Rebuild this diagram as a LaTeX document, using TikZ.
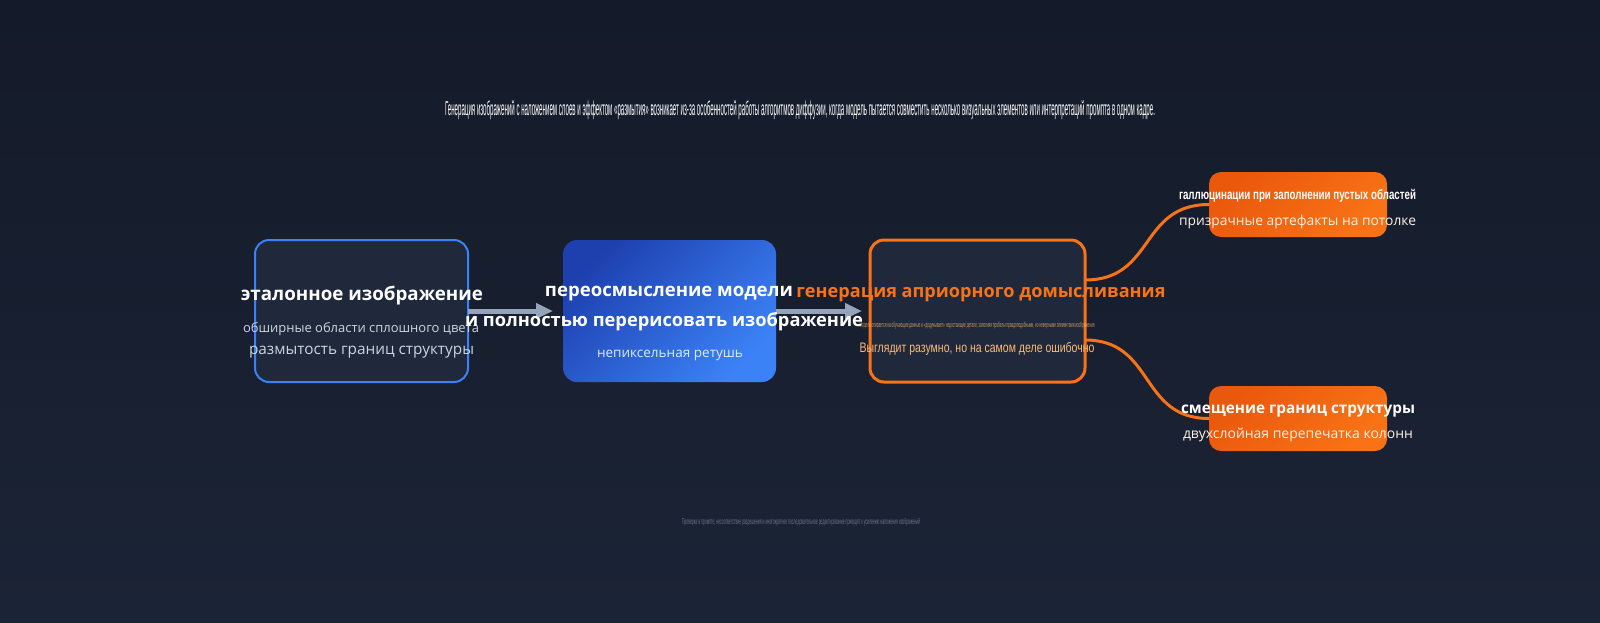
\documentclass[tikz,border=0pt]{standalone}
\usepackage{fontspec}
\setmainfont{Open Sans}
\newfontfamily\narrowf{Liberation Sans}
\usetikzlibrary{arrows.meta,calc}
\definecolor{bgtop}{HTML}{141A29}
\definecolor{bgbot}{HTML}{1B2436}
\definecolor{boxfill}{HTML}{1F293B}
\definecolor{blueb}{HTML}{3B82F6}
\definecolor{bluedark}{HTML}{1E40AF}
\definecolor{orng}{HTML}{F97316}
\definecolor{orngdark}{HTML}{EA580C}
\definecolor{arrowc}{HTML}{94A3B8}
\definecolor{subgray}{HTML}{CBD5E1}
\definecolor{sublblue}{HTML}{DBEAFE}
\definecolor{suborng}{HTML}{FDBA74}
\definecolor{footc}{HTML}{64748B}
\definecolor{subwhite}{HTML}{FFF1E6}
\newcommand{\fitw}[2]{\resizebox{#1}{!}{#2}}
\newcommand{\fitwh}[3]{\resizebox*{#1}{#2}{#3}}
\begin{document}
\begin{tikzpicture}[x=1pt,y=-1pt,
  txt/.style={inner sep=0pt, outer sep=0pt, anchor=center},
  mainbox/.style={rectangle, rounded corners=14pt, minimum width=213pt, minimum height=142pt, inner sep=0pt, outer sep=0pt},
  sidebox/.style={rectangle, rounded corners=12pt, minimum width=178pt, minimum height=65pt, inner sep=0pt, outer sep=0pt,
    top color=orngdark, bottom color=orng, shading angle=45},
  arr/.style={draw=arrowc, line width=5pt, -{Triangle[length=17pt,width=15pt]}},
  branch/.style={draw=orng, line width=3pt}
]
\useasboundingbox (0,0) rectangle (1600,622);
\node[inner sep=0pt, outer sep=0pt, minimum width=1600pt, minimum height=622pt, anchor=north west,
  top color=bgtop, bottom color=bgbot] (bg) at (0,0) {};

% boxes
\node[mainbox, fill=boxfill, draw=blueb, line width=2pt] (b1) at (361.5,311) {};
\node[mainbox, top color=bluedark, bottom color=blueb, shading angle=45] (b2) at (669.5,311) {};
\node[mainbox, minimum width=215pt, fill=boxfill, draw=orng, line width=3pt] (b3) at (977.5,311) {};
\node[sidebox] (b4) at (1298,204.5) {};
\node[sidebox] (b5) at (1298,418.5) {};

% connectors
\draw[arr] (b1.east) -- ($(b2.west)+(-10,0)$);
\draw[arr] (b2.east) -- ($(b3.west)+(-8,0)$);
\coordinate (c3a) at ($(b3.east)+(0,-31)$);
\coordinate (c3b) at ($(b3.east)+(0,29)$);
\draw[branch] (c3a) .. controls +(70,0) and +(-70,0) .. (b4.west);
\draw[branch] (c3b) .. controls +(70,0) and +(-70,0) .. (b5.west);

% top text
\node[txt, text=white] (toptxt) at (800,110) {\fitwh{710pt}{19pt}{\narrowf Генерация изображений с наложением слоев и эффектом «размытия» возникает из-за особенностей работы алгоритмов диффузии, когда модель пытается совместить несколько визуальных элементов или интерпретаций промпта в одном кадре.}};

% box 1 texts
\node[txt, text=white] (t1) at (362,296) {\fitw{242pt}{\bfseries эталонное изображение}};
\node[txt, text=subgray] (s1a) at (361,329) {\fitw{236pt}{обширные области сплошного цвета}};
\node[txt, text=subgray] (s1b) at (361.5,352) {\fitw{225pt}{размытость границ структуры}};

% box 2 texts
\node[txt, text=white] (t2a) at (669,294) {\fitw{248pt}{\bfseries переосмысление модели}};
\node[txt, text=white] (t2b) at (664,322) {\fitw{398pt}{\bfseries и полностью перерисовать изображение}};
\node[txt, text=sublblue] (s2) at (670,355) {\fitw{146pt}{непиксельная ретушь}};

% box 3 texts
\node[txt, text=orng] (t3) at (981,295) {\fitw{369pt}{\bfseries генерация априорного домысливания}};
\node[txt, text=suborng, opacity=0.75] (tiny3) at (977,326) {\fitwh{235pt}{7pt}{\narrowf Модель опирается на обучающие данные и «додумывает» недостающие детали, заполняя пробелы правдоподобными, но неверными элементами изображения}};
\node[txt, text=suborng] (s3) at (977,349) {\fitwh{235pt}{13pt}{\narrowf Выглядит разумно, но на самом деле ошибочно}};

% box 4 texts
\node[txt, text=white] (t4) at (1297.5,196) {\fitwh{237pt}{13pt}{\narrowf\bfseries галлюцинации при заполнении пустых областей}};
\node[txt, text=subwhite] (s4) at (1297.5,222) {\fitw{237pt}{призрачные артефакты на потолке}};

% box 5 texts
\node[txt, text=white] (t5) at (1298,411) {\fitw{234pt}{\bfseries смещение границ структуры}};
\node[txt, text=subwhite] (s5) at (1298,435) {\fitw{230pt}{двухслойная перепечатка колонн}};

% footer
\node[txt, text=footc] (foot) at (801,522) {\fitwh{238pt}{8pt}{\narrowf Проверка в промпте, несоответствие разрешения и многократное последовательное редактирование приводят к усилению наложения изображений}};
\end{tikzpicture}
\end{document}
